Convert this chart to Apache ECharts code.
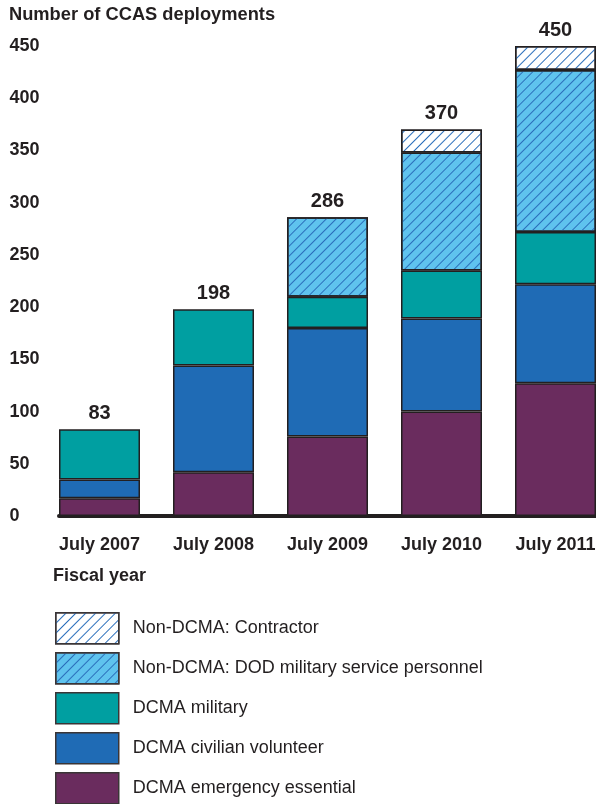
<!DOCTYPE html>
<html>
<head>
<meta charset="utf-8">
<script src="https://cdn.jsdelivr.net/npm/echarts@6/dist/echarts.min.js"></script>
<style>
html,body{margin:0;padding:0;background:#fff;overflow:hidden;width:596px;height:804px;}
#chart{width:620px;height:804px;}
</style>
</head>
<body>
<div id="chart"></div>
<script>
const categories = ['July 2007', 'July 2008', 'July 2009', 'July 2010', 'July 2011'];
const emergencyEssential = [17, 42, 76, 100, 127];
const civilianVolunteer = [18, 102, 104, 89, 95];
const dcmaMilitary = [48, 54, 30, 46, 50];
const dodMilitary = [0, 0, 76, 113, 155];
const contractor = [0, 0, 0, 22, 23];
const totals = [83, 198, 286, 370, 450];
const yTicks = [0, 50, 100, 150, 200, 250, 300, 350, 400, 450];

const names = {
  ee: 'DCMA emergency essential',
  cv: 'DCMA civilian volunteer',
  dm: 'DCMA military',
  dod: 'Non-DCMA: DOD military service personnel',
  con: 'Non-DCMA: Contractor'
};

const ink = '#231f20';
const FONT = 'Liberation Sans, Arial, sans-serif';
const border = { borderColor: ink, borderWidth: 1.5 };
const hatch = {
  symbol: 'rect',
  color: '#2a6ebb',
  dashArrayX: [1, 0],
  dashArrayY: [1, 5.6],
  rotation: -Math.PI / 4,
  symbolSize: 1
};

function seg(name, data, color, decal) {
  const s = {
    name: name,
    type: 'bar',
    stack: 'total',
    data: data.map(v => v === 0 ? null : v),
    barWidth: 81,
    itemStyle: Object.assign({ color: color }, border),
    emphasis: { disabled: true }
  };
  if (decal) s.itemStyle.decal = decal;
  return s;
}

const chart = echarts.init(document.getElementById('chart'), null, { renderer: 'canvas' });
chart.setOption({
  animation: false,
  textStyle: { fontFamily: FONT },
  title: [
    {
      text: 'Number of CCAS deployments',
      left: 9, top: 6, padding: 0,
      textStyle: { fontFamily: FONT, fontSize: 18.3, fontWeight: 'bold', color: ink }
    },
    {
      text: 'Fiscal year',
      left: 53, top: 567, padding: 0,
      textStyle: { fontFamily: FONT, fontSize: 18, fontWeight: 'bold', color: ink }
    }
  ],
  grid: [
    { left: 42.5, top: 46, height: 470, width: 570 },
    { left: 59, top: 46, height: 470, right: 0 }
  ],
  legend: {
    orient: 'vertical',
    left: 55, top: 612, padding: 0,
    width: 540, height: 200,
    icon: 'rect',
    itemWidth: 63, itemHeight: 31, itemGap: 7.5,
    itemStyle: { borderColor: '#3a3536', borderWidth: 1.5 },
    data: [names.con, names.dod, names.dm, names.cv, names.ee],
    textStyle: { fontFamily: FONT, fontSize: 18, color: ink, padding: [0, 0, 0, 9] },
    selectedMode: false
  },
  xAxis: [
    {
      type: 'category', data: categories, gridIndex: 0,
      axisLine: { show: false },
      axisTick: { show: false },
      axisLabel: { margin: 20, fontFamily: FONT, fontSize: 18, fontWeight: 'bold', color: ink }
    },
    {
      type: 'category', data: [], gridIndex: 1,
      axisLine: { show: true, lineStyle: { color: ink, width: 4 } },
      axisTick: { show: false },
      axisLabel: { show: false }
    }
  ],
  yAxis: [
    {
      type: 'value', min: 0, max: 450, interval: 50, gridIndex: 0,
      splitLine: { show: false },
      axisLine: { show: false },
      axisTick: { show: false },
      axisLabel: {
        align: 'left', margin: 33,
        fontFamily: FONT, fontSize: 18, fontWeight: 'bold', color: ink,
        customValues: yTicks
      }
    },
    { type: 'value', gridIndex: 1, min: 0, max: 450, show: false }
  ],
  series: [
    seg(names.ee, emergencyEssential, '#6a2c5e'),
    seg(names.cv, civilianVolunteer, '#1f6bb5'),
    seg(names.dm, dcmaMilitary, '#009fa1'),
    seg(names.dod, dodMilitary, '#5fc3ee', hatch),
    seg(names.con, contractor, '#ffffff', hatch),
    {
      name: 'total',
      type: 'bar',
      stack: 'total',
      barWidth: 81,
      data: totals.map(() => 0),
      itemStyle: { color: 'rgba(0,0,0,0)', borderWidth: 0 },
      label: {
        show: true, position: 'top', distance: 6,
        formatter: p => String(totals[p.dataIndex]),
        fontFamily: FONT, fontSize: 20, fontWeight: 'bold', color: ink
      },
      emphasis: { disabled: true }
    }
  ]
});
</script>
</body>
</html>
